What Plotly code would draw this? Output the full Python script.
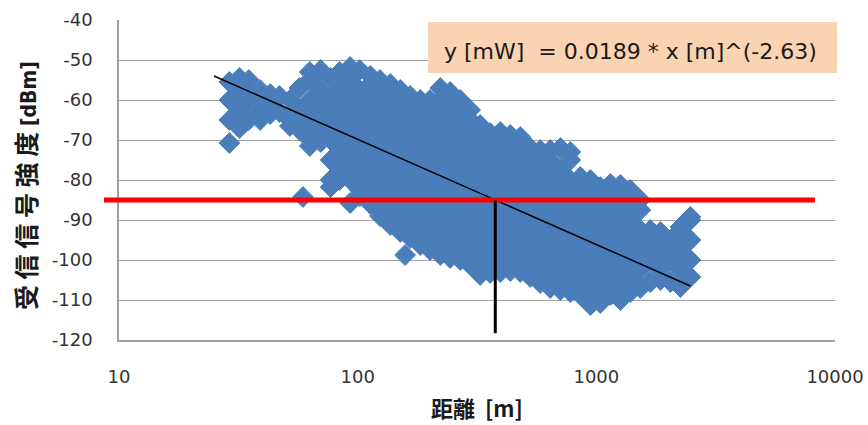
import math
import plotly.graph_objects as go

# Measured samples, grouped by distance [m] -> received signal strength [dBm]
distance_m = [29, 32, 35, 39, 43, 47, 52, 57, 59, 63, 70, 77, 84, 93, 102, 113, 124, 137,
              151, 158, 166, 183, 201, 222, 244, 269, 296, 326, 359, 396, 436, 480, 529,
              582, 641, 707, 778, 857, 944, 1039, 1145, 1261, 1389, 1529, 1684, 1855,
              2043, 2250, 2478]
rssi_dbm = [
    [-55.5, -60, -65, -70.75],
    [-54.5, -57.5, -62.5, -67],
    [-55, -60, -65],
    [-57.5, -62.5, -65],
    [-58.5, -60, -63.5],
    [-59, -63],
    [-60, -65, -66.5],
    [-57, -62.5, -67.5],
    [-84.25],
    [-53, -55, -60, -65, -70, -71.5],
    [-52.5, -57.5, -62.5, -67.5, -70.5],
    [-54.5, -60, -65, -70, -75, -80, -81.75],
    [-53, -57.5, -62.5, -67.5, -72.5, -77.5, -80],
    [-51.75, -55, -60, -65, -70, -75, -80, -85.75],
    [-52.5, -57.5, -62.5, -67.5, -72.5, -77.5, -82.5, -84],
    [-54, -56, -60, -65, -70, -75, -80, -85, -86],
    [-55, -57.5, -62.5, -67.5, -72.5, -77.5, -82.5, -87.5, -89],
    [-56, -60, -65, -70, -75, -80, -85, -90, -91.25],
    [-57.5, -62.5, -67.5, -72.5, -77.5, -82.5, -87.5, -92.5, -93],
    [-98.75],
    [-59, -60, -65, -70, -75, -80, -85, -90, -94.5],
    [-60, -62.5, -67.5, -72.5, -77.5, -82.5, -87.5, -92.5, -96.25],
    [-60, -65, -70, -75, -80, -85, -90, -95, -97.5],
    [-57, -60, -62.5, -67.5, -72.5, -77.5, -82.5, -87.5, -92.5, -97.5, -98.75],
    [-58, -60, -65, -70, -75, -80, -85, -90, -95, -99.5],
    [-60, -62.5, -67.5, -72.5, -77.5, -82.5, -87.5, -92.5, -97.5, -100],
    [-62.5, -65, -70, -75, -80, -85, -90, -95, -100, -101.25],
    [-66.25, -67.5, -72.5, -77.5, -82.5, -87.5, -92.5, -97.5, -102.5, -103.75],
    [-68.25, -70, -75, -80, -85, -90, -95, -100, -103.25],
    [-68, -72.5, -77.5, -82.5, -87.5, -92.5, -97.5, -102.5, -103],
    [-68.75, -70, -75, -80, -85, -90, -95, -100, -102.75],
    [-69.25, -72.5, -77.5, -82.5, -87.5, -92.5, -97.5, -102.5, -103],
    [-72, -75, -80, -85, -90, -95, -100, -104.25],
    [-72.5, -77.5, -82.5, -87.5, -92.5, -97.5, -102.5, -105.75],
    [-72.5, -75, -80, -85, -90, -95, -100, -105, -107],
    [-72, -77.5, -82.5, -87.5, -92.5, -97.5, -102.5, -107.5],
    [-73, -75, -80, -85, -90, -95, -100, -105, -108],
    [-79.25, -82.5, -87.5, -92.5, -97.5, -102.5, -107.5, -108.75],
    [-80, -85, -90, -95, -100, -105, -110, -111.25],
    [-81.75, -82.5, -87.5, -92.5, -97.5, -102.5, -107.5, -110.75],
    [-81, -85, -90, -95, -100, -105, -108.75],
    [-81.25, -82.5, -87.5, -92.5, -97.5, -102.5, -107.5, -110],
    [-82.5, -85, -90, -95, -100, -105, -108],
    [-85, -87.5, -92.5, -97.5, -102.5, -107],
    [-92.5, -95, -100, -105.5],
    [-93, -97.5, -102.5, -105],
    [-95, -100, -105.5],
    [-91.75, -92.5, -97.5, -102.5, -106.75],
    [-89.25, -90, -95, -100, -104.25],
]

# Power-law fit: y[mW] = 0.0189 * x[m]^(-2.63)
fit_coef = 0.0189
fit_exp = -2.63
fit_range_m = [25, 2480]
threshold_dbm = -85
vline_bottom_dbm = -118.3
x_ticks = [10, 100, 1000, 10000]
y_ticks = [-120, -110, -100, -90, -80, -70, -60, -50, -40]

xs, ys = [], []
for d, vals in zip(distance_m, rssi_dbm):
    for v in vals:
        xs.append(d)
        ys.append(v)

def fit_dbm(x):
    return 10 * math.log10(fit_coef * x ** fit_exp)

cross_m = 10 ** ((threshold_dbm / 10 - math.log10(fit_coef)) / fit_exp)

blue = "#4A7EBB"
fig = go.Figure()
fig.add_trace(go.Scatter(
    x=xs, y=ys, mode="markers",
    marker=dict(symbol="diamond", size=16, color=blue, line=dict(color=blue, width=1)),
    hoverinfo="skip", showlegend=False))
fig.add_trace(go.Scatter(
    x=fit_range_m, y=[fit_dbm(v) for v in fit_range_m], mode="lines",
    line=dict(color="black", width=1.5), showlegend=False, hoverinfo="skip"))

# threshold line (extends slightly past the left axis)
fig.add_shape(type="line", xref="paper", yref="y", x0=-0.021, x1=0.972,
              y0=threshold_dbm, y1=threshold_dbm, line=dict(color="#FF0000", width=5), layer="above")
fig.add_shape(type="line", xref="x", yref="y", x0=cross_m, x1=cross_m,
              y0=threshold_dbm, y1=vline_bottom_dbm, line=dict(color="black", width=3), layer="above")

# equation box
fig.add_shape(type="rect", xref="paper", yref="paper", x0=0.4316, x1=1.003, y0=0.834, y1=0.994,
              fillcolor="#FAD3B2", line=dict(width=0), layer="above")
fig.add_annotation(xref="paper", yref="paper", x=0.7137, y=0.90, xanchor="center", yanchor="middle",
                   showarrow=False, text="y [mW]  = 0.0189 * x [m]^(-2.63)",
                   font=dict(family="DejaVu Sans", size=22, color="#1a1a1a"))

# axis titles
fig.add_annotation(xref="paper", yref="paper", x=-0.1313, y=0.484, xanchor="center", yanchor="middle",
                   showarrow=False, textangle=-90,
                   text=("<b>受 信 信 号 強 度 <span style=\"font-family:Liberation Sans Narrow, "
                         "DejaVu Sans Condensed, Liberation Sans, sans-serif;font-size:21px\">[dBm]</span></b>"),
                   font=dict(family="Noto Sans CJK JP", size=25, color="#1a1a1a"))
fig.add_annotation(xref="paper", yref="paper", x=0.5, y=-0.21, xanchor="center", yanchor="middle",
                   showarrow=False, text="<b>距離  [m]</b>",
                   font=dict(family="Noto Sans CJK JP", size=22, color="#1a1a1a"))

tickfont = dict(family="DejaVu Sans", size=18, color="#333333")
fig.update_xaxes(type="log", range=[1, 4], tickvals=x_ticks, ticktext=[str(v) for v in x_ticks],
                 showgrid=False, showline=True, linecolor="#A0A0A0", linewidth=1.5,
                 ticks="", tickfont=tickfont, ticklabelstandoff=20, zeroline=False, automargin=False)
fig.update_yaxes(range=[-120, -40], tickvals=y_ticks, ticktext=[str(v) for v in y_ticks],
                 showgrid=True, gridcolor="#A6A6A6",
                 gridwidth=1, showline=True, linecolor="#A0A0A0", linewidth=1.5,
                 ticks="", tickfont=tickfont, ticklabelstandoff=21, zeroline=False, automargin=False)
fig.update_layout(width=868, height=425, margin=dict(l=119, r=33, t=20, b=85, autoexpand=False),
                  plot_bgcolor="white", paper_bgcolor="white")
fig.write_html("out.html", config={"displayModeBar": False},
               post_script=("document.body.style.margin='0px';"
                            "document.body.style.overflow='hidden';"
                            "document.documentElement.style.overflow='hidden';"))
